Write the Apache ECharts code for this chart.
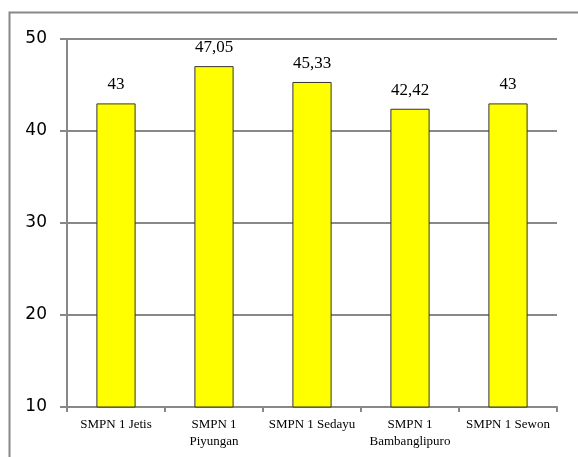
<!DOCTYPE html>
<html><head><meta charset="utf-8">
<script src="https://cdn.jsdelivr.net/npm/echarts@6/dist/echarts.min.js"></script>
<style>html,body{margin:0;padding:0;background:#fff}#c{width:578px;height:457px}</style>
</head><body><div id="c"></div>
<script>
var categories = ['SMPN 1 Jetis', 'SMPN 1\nPiyungan', 'SMPN 1 Sedayu', 'SMPN 1\nBambanglipuro', 'SMPN 1 Sewon'];
var values = [43, 47.05, 45.33, 42.42, 43];
var yTicks = [10, 20, 30, 40, 50];

var chart = echarts.init(document.getElementById('c'));
chart.setOption({
  animation: false,
  backgroundColor: '#fff',
  graphic: [{
    type: 'rect', left: 7, top: 10, silent: true,
    shape: { width: 600, height: 500 },
    style: { fill: 'none', stroke: '#888', lineWidth: 2 }
  }],
  grid: { left: 67, top: 39, right: 21, bottom: 50, containLabel: false },
  xAxis: {
    type: 'category', data: categories,
    axisLine: { lineStyle: { color: '#888', width: 2 } },
    axisTick: { show: true, length: 5, lineStyle: { color: '#888', width: 2 } },
    axisLabel: { color: '#000', fontFamily: 'Liberation Serif', fontSize: 13, interval: 0, margin: 9, lineHeight: 17 }
  },
  yAxis: {
    type: 'value', min: yTicks[0], max: yTicks[yTicks.length - 1], interval: 10,
    axisLine: { show: true, lineStyle: { color: '#888', width: 2 } },
    axisTick: { show: true, length: 7, lineStyle: { color: '#888', width: 2 } },
    splitLine: { lineStyle: { color: '#888', width: 2 } },
    axisLabel: { color: '#000', fontFamily: 'DejaVu Sans', fontSize: 17, margin: 20 }
  },
  series: [{
    type: 'bar', data: values, barWidth: '40%',
    itemStyle: { color: '#ffff00', borderColor: '#333', borderWidth: 1 },
    label: {
      show: true, position: 'top', distance: 10, color: '#000',
      fontFamily: 'Liberation Serif', fontSize: 17,
      formatter: function (p) { return String(p.value).replace('.', ','); }
    }
  }]
});
</script></body></html>
